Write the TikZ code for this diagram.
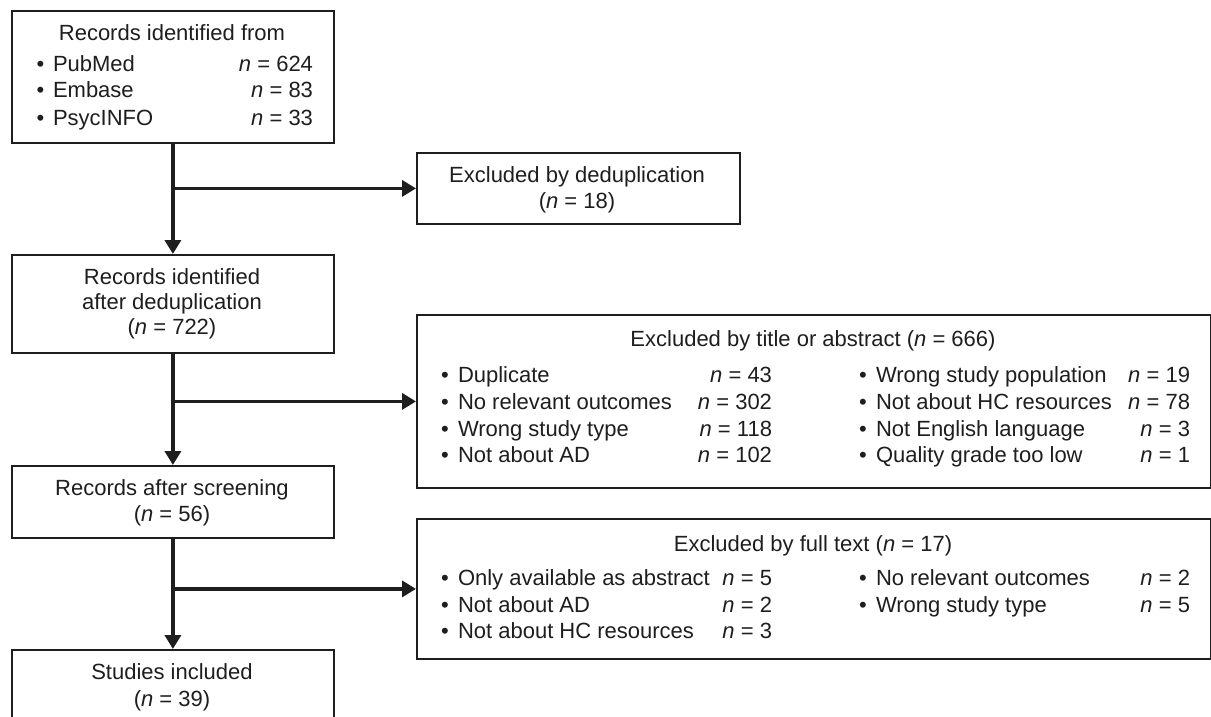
\documentclass[tikz,border=0pt]{standalone}
\usepackage{fontspec}
\setmainfont{Liberation Sans}
\usetikzlibrary{arrows.meta}
\definecolor{ink}{HTML}{1E1E1E}
\newcommand{\fs}{\fontsize{22}{26}\selectfont}
\newcommand{\nn}[1]{\textit{n} = #1}
% name, bullet x, text x, right x, baseline y, label, count
\newcommand{\itemrow}[7]{%
  \node[txt,anchor=base] (#1b) at (#2,#5) {•};
  \node[txt,anchor=base west] (#1t) at (#3,#5) {#6};
  \node[txt,anchor=base east] (#1n) at (#4,#5) {\nn{#7}};
}
\tikzset{
  box/.style={draw=ink, line width=1.8pt, inner sep=0pt, anchor=north west, fill=white},
  txt/.style={inner sep=0pt, outer sep=0pt, font=\fs, text=ink},
  arr/.style={draw=ink, line width=3.6pt, -{Triangle[length=14pt,width=16pt]}},
}
\begin{document}
\begin{tikzpicture}[x=1pt,y=-1pt]
\useasboundingbox (0,0) rectangle (1211,717);
\fill[white] (0,0) rectangle (1211,717);

% boxes
\node[box, minimum width=322pt, minimum height=132pt] (b1) at (11,10) {};
\node[box, minimum width=323pt, minimum height=71pt] (b2) at (416,152) {};
\node[box, minimum width=322pt, minimum height=98pt] (b3) at (11,254) {};
\node[box, minimum width=794pt, minimum height=173pt] (b4) at (416,314) {};
\node[box, minimum width=322pt, minimum height=72pt] (b5) at (11,465) {};
\node[box, minimum width=794pt, minimum height=140pt] (b6) at (416,518) {};
\node[box, minimum width=322pt, minimum height=90pt] (b7) at (11,649) {};

% box 1
\node[txt,anchor=base] (t1) at (172,41) {Records identified from};
\itemrow{r1}{40.5}{53}{313}{71}{PubMed}{624}
\itemrow{r2}{40.5}{53}{313}{98}{Embase}{83}
\itemrow{r3}{40.5}{53}{313}{125}{PsycINFO}{33}

% box 2
\node[txt,anchor=base] (t2a) at (577,182) {Excluded by deduplication};
\node[txt,anchor=base] (t2b) at (577,208) {(\textit{n} = 18)};

% box 3
\node[txt,anchor=base] (t3a) at (172,284) {Records identified};
\node[txt,anchor=base] (t3b) at (172,309) {after deduplication};
\node[txt,anchor=base] (t3c) at (172,334) {(\textit{n} = 722)};

% box 4
\node[txt,anchor=base] (t4) at (813,346) {Excluded by title or abstract (\textit{n} = 666)};
\itemrow{a1}{445}{458}{772}{382}{Duplicate}{43}
\itemrow{a2}{445}{458}{772}{409}{No relevant outcomes}{302}
\itemrow{a3}{445}{458}{772}{436}{Wrong study type}{118}
\itemrow{a4}{445}{458}{772}{462}{Not about AD}{102}
\itemrow{a5}{863}{876}{1190}{382}{Wrong study population}{19}
\itemrow{a6}{863}{876}{1190}{409}{Not about HC resources}{78}
\itemrow{a7}{863}{876}{1190}{436}{Not English language}{3}
\itemrow{a8}{863}{876}{1190}{462}{Quality grade too low}{1}

% box 5
\node[txt,anchor=base] (t5a) at (172,495) {Records after screening};
\node[txt,anchor=base] (t5b) at (172,521) {(\textit{n} = 56)};

% box 6
\node[txt,anchor=base] (t6) at (813,551) {Excluded by full text (\textit{n} = 17)};
\itemrow{f1}{445}{458}{772}{585}{Only available as abstract}{5}
\itemrow{f2}{445}{458}{772}{612}{Not about AD}{2}
\itemrow{f3}{445}{458}{772}{638}{Not about HC resources}{3}
\itemrow{f4}{863}{876}{1190}{585}{No relevant outcomes}{2}
\itemrow{f5}{863}{876}{1190}{612}{Wrong study type}{5}

% box 7
\node[txt,anchor=base] (t7a) at (172,679) {Studies included};
\node[txt,anchor=base] (t7b) at (172,706) {(\textit{n} = 39)};

% connectors
\draw[arr] (b1.south) -- (b3.north);
\draw[arr] (b3.south) -- (b5.north);
\draw[arr] (b5.south) -- (b7.north);
\draw[arr] (b1.south |- b2.west) -- (b2.west);
\draw[arr] (b3.south |- b4.west) -- (b4.west);
\draw[arr] (b5.south |- b6.west) -- (b6.west);
\end{tikzpicture}
\end{document}
